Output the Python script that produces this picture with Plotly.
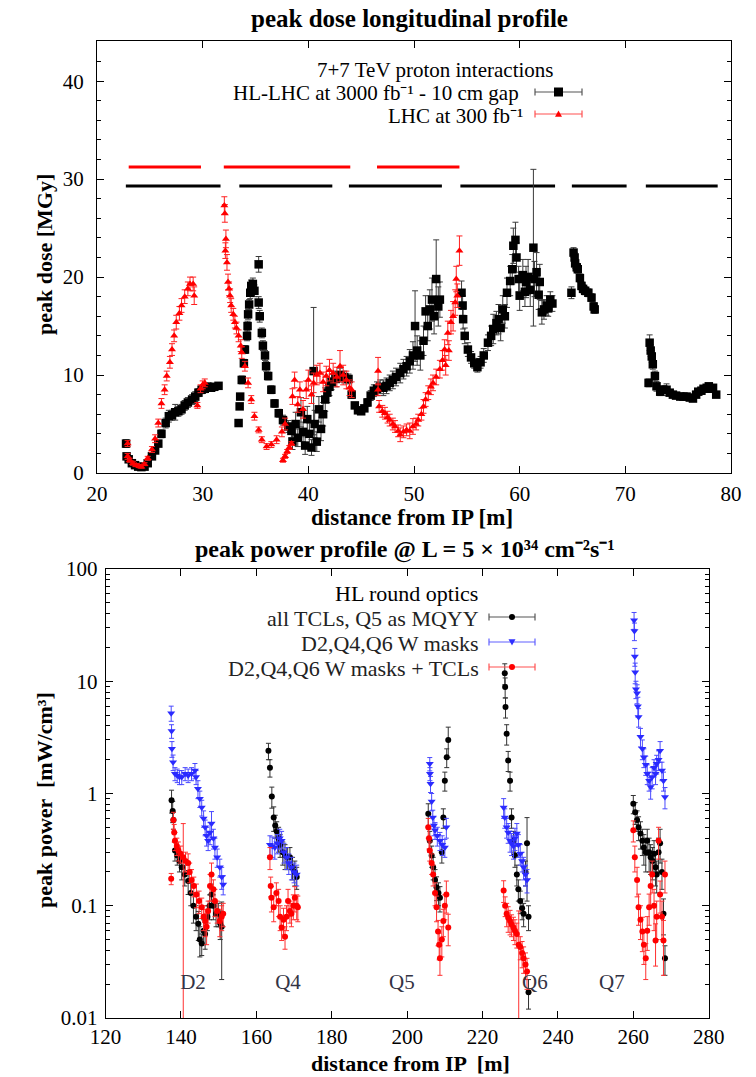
import plotly.graph_objects as go

W, H = 756, 1077

# ---------------- top panel: peak dose (MGy) vs distance (m) ----------------
# (distance, peak dose, error)
HL_POINTS = [
    (22.75, 3.0, 0.4), (22.8, 1.7, 0.3), (23.0, 1.4, 0.2), (23.3, 1.0, 0.2), (23.6, 0.8, 0.2),
    (23.9, 0.65, 0.15), (24.2, 0.6, 0.15), (24.5, 0.65, 0.15), (24.8, 1.0, 0.2), (25.2, 1.7, 0.2),
    (25.5, 2.3, 0.3), (25.8, 3.0, 0.3), (26.1, 4.0, 0.4), (26.5, 5.1, 0.5), (26.8, 5.8, 0.6),
    (27.1, 5.9, 0.5), (27.4, 6.2, 0.8), (27.7, 6.3, 0.5), (28.0, 6.5, 0.5), (28.3, 6.9, 0.5),
    (28.6, 7.2, 0.5), (29.0, 7.5, 0.5), (29.3, 7.8, 0.5), (29.6, 8.2, 0.4), (29.9, 8.5, 0.4),
    (30.2, 8.6, 0.4), (30.5, 8.8, 0.4), (30.8, 8.7, 0.3), (31.1, 8.8, 0.3), (31.5, 8.9, 0.3),
    (33.4, 5.1, 0.3), (33.5, 6.8, 0.3), (33.55, 7.8, 0.3), (33.7, 9.5, 0.4), (33.9, 11.2, 0.4),
    (34.0, 12.6, 0.4), (34.2, 14.0, 0.5), (34.25, 15.0, 0.5), (34.3, 16.2, 0.5), (34.4, 17.2, 0.5),
    (34.5, 18.4, 0.6), (34.6, 19.1, 0.6), (34.75, 19.3, 0.6), (34.9, 18.6, 0.6), (35.3, 21.3, 0.8),
    (35.3, 17.4, 0.6), (35.4, 16.0, 0.6), (35.6, 14.3, 0.5), (35.7, 13.0, 0.5), (35.9, 12.0, 0.5),
    (36.0, 10.9, 0.5), (36.2, 9.9, 0.4), (36.5, 8.5, 0.4), (36.8, 7.1, 0.4), (37.2, 6.1, 0.4),
    (37.6, 5.4, 0.5), (38.1, 4.75, 0.6), (38.4, 4.3, 0.7), (38.5, 3.2, 0.8), (38.8, 5.0, 1.2),
    (39.0, 3.6, 0.9), (39.3, 6.2, 1.5), (39.5, 4.2, 1.0), (39.7, 2.8, 0.9), (39.9, 5.5, 1.3),
    (40.1, 4.0, 1.1), (40.3, 2.6, 0.8), (40.5, 10.4, 6.5), (40.6, 5.0, 1.4), (40.8, 3.2, 1.0),
    (41.0, 6.5, 1.3), (41.2, 4.5, 1.2), (41.4, 6.0, 1.2), (41.6, 7.5, 1.2), (41.8, 8.2, 1.0),
    (42.0, 8.8, 0.9), (42.2, 9.3, 0.8), (42.6, 9.6, 0.8), (43.0, 10.0, 0.7), (43.4, 9.8, 0.6),
    (43.8, 9.6, 0.5), (44.1, 8.0, 0.4), (44.4, 6.9, 0.3), (44.7, 6.4, 0.3), (45.0, 6.3, 0.3),
    (45.3, 6.6, 0.3), (45.6, 7.2, 0.4), (45.9, 7.9, 0.5), (46.2, 8.4, 0.6), (46.5, 8.6, 0.7),
    (46.8, 8.8, 0.7), (47.1, 8.7, 0.8), (47.4, 8.9, 0.8), (47.7, 9.2, 0.8), (48.0, 9.5, 0.9),
    (48.3, 9.8, 0.9), (48.7, 10.2, 1.0), (49.0, 10.6, 1.0), (49.3, 10.9, 1.0), (49.6, 11.4, 1.2),
    (49.9, 12.0, 1.4), (50.1, 15.0, 3.6), (50.3, 12.5, 1.5), (50.6, 12.0, 1.5), (50.9, 13.5, 1.5),
    (51.1, 16.5, 1.6), (51.3, 15.0, 1.5), (51.5, 16.7, 2.0), (51.7, 17.7, 2.2), (51.9, 16.0, 1.8),
    (52.1, 19.8, 4.0), (52.3, 17.0, 2.0), (52.45, 17.7, 1.8),
    (54.5, 18.4, 1.2), (54.6, 17.1, 1.0), (54.65, 15.7, 1.0), (54.8, 14.0, 0.8), (55.1, 12.6, 0.7),
    (55.4, 11.8, 0.6), (55.7, 11.2, 0.5), (56.0, 10.8, 0.5), (56.3, 11.3, 0.6), (56.6, 12.0, 0.7),
    (57.0, 13.3, 0.8), (57.3, 14.0, 1.0), (57.5, 14.7, 1.5), (57.8, 15.3, 1.2), (58.0, 15.7, 1.5),
    (58.2, 14.8, 1.3), (58.4, 16.7, 1.4), (58.6, 16.0, 1.2), (58.8, 18.4, 1.5), (59.1, 19.6, 1.5),
    (59.3, 20.8, 1.5), (59.4, 23.2, 1.8), (59.6, 23.8, 1.8), (59.7, 22.0, 1.5), (59.9, 19.8, 1.3),
    (60.0, 18.1, 1.5), (60.3, 20.2, 1.6), (60.5, 18.5, 1.5), (60.6, 19.5, 1.6), (60.8, 20.0, 1.8),
    (61.0, 18.7, 1.7), (61.3, 23.0, 8.0), (61.4, 19.8, 1.8), (61.6, 20.5, 2.0), (61.8, 18.2, 1.5),
    (61.9, 19.5, 1.8), (62.1, 16.4, 1.2), (62.3, 16.7, 1.0), (62.55, 17.1, 1.0), (62.7, 16.8, 0.8),
    (62.9, 17.7, 0.8), (63.1, 17.3, 0.8),
    (64.9, 18.4, 0.6), (65.1, 22.5, 0.5), (65.2, 22.0, 0.5), (65.25, 21.4, 0.5), (65.4, 21.0, 0.4),
    (65.5, 20.8, 0.4), (65.7, 19.9, 0.4), (65.85, 19.1, 0.4), (66.0, 18.8, 0.4), (66.2, 18.6, 0.4),
    (66.5, 18.4, 0.4), (66.8, 17.9, 0.4), (67.0, 17.0, 0.4), (67.1, 16.7, 0.4),
    (72.2, 9.2, 0.4), (72.3, 13.3, 0.8), (72.4, 12.5, 0.6), (72.5, 11.9, 0.6), (72.6, 11.1, 0.5),
    (72.8, 9.9, 0.5), (72.95, 8.85, 0.5), (73.3, 8.3, 0.4), (73.6, 8.5, 0.4), (73.9, 8.5, 0.6),
    (74.2, 8.2, 0.3), (74.5, 8.0, 0.3), (74.8, 7.9, 0.3), (75.2, 7.8, 0.3), (75.5, 7.8, 0.3),
    (75.8, 7.8, 0.3), (76.1, 7.7, 0.3), (76.4, 7.6, 0.3), (76.7, 8.0, 0.3), (76.9, 8.3, 0.3),
    (77.2, 8.4, 0.3), (77.4, 8.6, 0.3), (77.7, 8.7, 0.3), (77.9, 8.85, 0.3), (78.1, 8.6, 0.3),
    (78.3, 8.7, 0.3), (78.6, 8.0, 0.3),
]

LHC_POINTS = [
    (22.9, 3.0, 0.3), (22.9, 1.7, 0.3), (23.1, 1.3, 0.2), (23.4, 1.0, 0.2), (23.7, 0.8, 0.15),
    (24.0, 0.7, 0.15), (24.2, 0.65, 0.15), (24.5, 0.9, 0.15), (24.8, 1.5, 0.2), (25.2, 2.4, 0.3),
    (25.5, 3.5, 0.4), (25.8, 5.1, 0.4), (26.1, 7.1, 0.5), (26.4, 8.5, 0.5), (26.6, 9.9, 0.5),
    (26.9, 11.3, 0.6), (27.1, 12.6, 0.6), (27.3, 14.0, 0.6), (27.5, 15.4, 0.7), (27.8, 16.3, 0.7),
    (28.0, 17.1, 0.7), (28.3, 18.0, 0.7), (28.6, 18.8, 0.7), (28.8, 19.3, 0.7), (29.1, 19.3, 0.7),
    (29.2, 18.1, 0.9), (29.5, 6.9, 0.3), (29.8, 8.6, 0.4), (30.0, 9.0, 0.4), (30.2, 9.2, 0.4),
    (32.05, 27.3, 0.9), (32.1, 26.5, 0.9), (32.15, 22.7, 0.8), (32.2, 23.9, 0.9), (32.3, 21.5, 0.8),
    (32.4, 19.5, 0.8), (32.5, 18.8, 0.7), (32.6, 18.1, 0.7), (32.7, 17.1, 0.7), (32.9, 16.2, 0.6),
    (33.05, 15.4, 0.6), (33.2, 14.8, 0.6), (33.4, 14.0, 0.6), (33.6, 13.0, 0.6), (33.7, 12.3, 0.6),
    (34.0, 10.9, 0.5), (34.3, 9.2, 0.5), (34.6, 7.5, 0.4), (34.9, 5.8, 0.4), (35.3, 4.4, 0.3),
    (35.6, 3.4, 0.3), (36.05, 2.7, 0.3), (36.5, 2.9, 0.3), (37.0, 3.4, 0.4), (37.5, 4.2, 0.5),
    (37.8, 5.0, 0.6), (37.6, 1.3, 0.2), (37.8, 1.7, 0.2), (38.0, 2.2, 0.2), (38.2, 2.6, 0.2),
    (38.4, 3.0, 0.2), (38.5, 7.8, 0.8), (38.7, 9.5, 0.8), (39.0, 7.0, 0.8), (39.2, 8.5, 0.8),
    (39.5, 6.5, 0.9), (39.8, 8.5, 0.9), (40.0, 9.5, 1.0), (40.3, 8.0, 0.9), (40.5, 9.2, 1.0),
    (40.8, 10.0, 1.0), (41.1, 10.2, 1.0), (41.4, 9.3, 1.0), (41.7, 9.9, 1.0), (42.0, 10.5, 1.1),
    (42.35, 10.2, 1.0), (42.7, 9.8, 1.0), (43.0, 10.9, 1.6), (43.3, 10.0, 1.0), (43.6, 9.5, 0.9),
    (43.9, 8.7, 0.8), (44.1, 8.5, 0.8),
    (46.6, 8.5, 0.6), (46.6, 10.4, 1.4), (46.7, 6.8, 0.6), (47.0, 6.3, 0.6), (47.25, 6.1, 0.6),
    (47.5, 5.7, 0.6), (47.7, 5.4, 0.6), (48.0, 5.0, 0.6), (48.2, 4.75, 0.6), (48.5, 4.3, 0.6),
    (48.7, 3.9, 0.7), (49.0, 4.2, 0.6), (49.3, 4.4, 0.6), (49.6, 4.3, 0.8), (49.9, 4.75, 0.8),
    (50.2, 5.0, 0.6), (50.4, 5.4, 0.6), (50.7, 6.0, 0.6), (50.9, 6.8, 0.7), (51.1, 7.5, 0.7),
    (51.35, 8.2, 0.7), (51.6, 8.8, 0.8), (51.8, 9.2, 0.8), (52.1, 9.8, 0.8), (52.45, 10.6, 0.9),
    (52.7, 11.5, 1.0), (52.9, 12.6, 1.0), (53.0, 11.0, 1.0), (53.2, 14.3, 1.2), (53.3, 12.5, 1.0),
    (53.5, 15.4, 1.2), (53.7, 16.0, 1.5), (53.9, 17.4, 1.3), (54.0, 19.8, 1.3), (54.1, 18.1, 1.2),
    (54.3, 22.7, 1.5),
]

# magnet extents (start, end) drawn as horizontal bars
HL_MAGNETS = [(22.73, 31.69), (33.47, 42.27), (43.84, 52.64), (54.39, 63.35), (64.94, 70.12), (71.94, 78.74)]
HL_MAGNET_LEVEL = 29.3
LHC_MAGNETS = [(23.0, 29.84), (32.0, 43.97), (46.5, 54.3)]
LHC_MAGNET_LEVEL = 31.25

TOP_X_TICKS = [20, 30, 40, 50, 60, 70, 80]
TOP_Y_TICKS = [0, 10, 20, 30, 40]

# ---------------- bottom panel: peak power (mW/cm3) vs distance (m) ----------------
TCL_POINTS = [
    (137.5, 0.87, 0.2), (137.8, 0.7, 0.15), (138.0, 0.58, 0.1), (138.4, 0.31, 0.06), (139.0, 0.28, 0.05),
    (139.6, 0.25, 0.05), (140.2, 0.22, 0.05), (141.0, 0.19, 0.04), (141.9, 0.166, 0.04), (142.6, 0.13, 0.03),
    (143.3, 0.1, 0.03), (144.0, 0.08, 0.02), (144.6, 0.069, 0.02), (145.0, 0.05, 0.015), (145.5, 0.046, 0.01),
    (146.0, 0.06, 0.015), (146.4, 0.056, 0.015), (147.0, 0.08, 0.02), (147.6, 0.1, 0.025), (148.1, 0.126, 0.03),
    (148.6, 0.1, 0.025), (149.3, 0.085, 0.02), (149.9, 0.085, 0.02), (150.4, 0.07, 0.02), (150.8, 0.065, 0.043),
    (163.2, 2.4, 0.4), (163.6, 1.7, 0.3), (164.1, 0.94, 0.2), (164.6, 0.61, 0.15), (165.0, 0.52, 0.12),
    (165.4, 0.46, 0.1), (165.9, 0.4, 0.1), (166.3, 0.35, 0.08), (167.0, 0.3, 0.07), (167.6, 0.28, 0.07),
    (168.3, 0.27, 0.06), (168.9, 0.27, 0.06), (169.6, 0.22, 0.05), (170.2, 0.2, 0.05), (170.7, 0.18, 0.04),
    (205.6, 0.66, 0.15), (206.0, 0.38, 0.08), (206.5, 0.28, 0.06), (206.9, 0.22, 0.05), (207.4, 0.17, 0.04),
    (207.8, 0.146, 0.035), (208.3, 0.13, 0.03), (208.7, 0.118, 0.03), (209.2, 0.3, 0.06), (209.6, 0.61, 0.12),
    (210.0, 1.3, 0.25), (210.5, 2.1, 0.4), (210.9, 3.0, 0.9),
    (225.9, 11.8, 2.5), (226.0, 8.9, 1.8), (226.1, 5.9, 1.2), (226.4, 3.4, 0.7), (226.8, 1.97, 0.4),
    (227.3, 1.3, 0.25), (227.7, 0.61, 0.12), (228.2, 0.38, 0.08), (228.6, 0.28, 0.06), (229.1, 0.19, 0.04),
    (229.5, 0.14, 0.03), (230.0, 0.11, 0.025), (230.5, 0.095, 0.02), (230.9, 0.085, 0.02), (231.4, 0.2, 0.05),
    (231.8, 0.36, 0.25), (232.2, 0.08, 0.02), (232.2, 0.017, 0.005),
    (260.0, 0.81, 0.15), (260.5, 0.68, 0.15), (261.0, 0.58, 0.12), (261.4, 0.5, 0.12), (261.9, 0.44, 0.12),
    (262.4, 0.38, 0.1), (262.8, 0.33, 0.1), (263.3, 0.3, 0.1), (263.7, 0.38, 0.1), (264.2, 0.3, 0.1),
    (264.6, 0.27, 0.08), (265.1, 0.25, 0.08), (265.5, 0.29, 0.09), (265.9, 0.22, 0.07), (266.2, 0.19, 0.06),
    (266.7, 0.3, 0.1), (267.1, 0.36, 0.12), (267.6, 0.2, 0.06), (268.0, 0.085, 0.03), (268.4, 0.034, 0.01),
]

WMASK_POINTS = [
    (137.4, 5.2, 0.8), (137.5, 3.6, 0.5), (137.6, 2.5, 0.4), (137.9, 1.9, 0.3), (138.4, 1.5, 0.2),
    (139.0, 1.45, 0.2), (139.6, 1.4, 0.2), (140.2, 1.4, 0.2), (141.1, 1.5, 0.2), (141.9, 1.45, 0.2),
    (142.8, 1.5, 0.2), (143.7, 1.6, 0.25), (144.0, 1.4, 0.2), (144.5, 1.1, 0.2), (145.0, 0.9, 0.15),
    (145.5, 0.75, 0.12), (146.0, 0.6, 0.1), (146.4, 0.5, 0.08), (146.8, 0.42, 0.08), (147.2, 0.38, 0.07),
    (147.7, 0.45, 0.1), (148.1, 0.54, 0.15), (148.6, 0.4, 0.08), (149.0, 0.33, 0.07), (149.6, 0.27, 0.05),
    (150.3, 0.22, 0.04), (150.8, 0.18, 0.04), (151.2, 0.155, 0.03),
    (163.6, 0.35, 0.07), (164.2, 0.34, 0.07), (164.9, 0.33, 0.07), (165.6, 0.36, 0.07), (166.2, 0.4, 0.08),
    (166.7, 0.38, 0.08), (167.3, 0.3, 0.06), (168.0, 0.27, 0.06), (168.6, 0.24, 0.05), (169.3, 0.22, 0.05),
    (170.0, 0.2, 0.04), (170.7, 0.19, 0.04),
    (206.0, 1.84, 0.25), (206.05, 1.5, 0.2), (206.2, 1.22, 0.2), (206.5, 0.85, 0.15), (206.8, 0.61, 0.1),
    (207.1, 0.52, 0.1), (207.4, 0.47, 0.08), (208.0, 0.42, 0.08), (208.7, 0.38, 0.07), (209.3, 0.35, 0.07),
    (210.0, 0.33, 0.06), (210.4, 0.5, 0.1),
    (225.6, 0.75, 0.15), (225.9, 0.61, 0.12), (226.4, 0.5, 0.1), (226.8, 0.45, 0.09), (227.3, 0.38, 0.08),
    (227.7, 0.36, 0.08), (228.2, 0.34, 0.08), (228.6, 0.4, 0.09), (229.1, 0.44, 0.1), (229.5, 0.35, 0.08),
    (230.0, 0.29, 0.06), (230.5, 0.25, 0.05), (230.9, 0.22, 0.05), (231.4, 0.19, 0.04), (231.8, 0.17, 0.04),
    (260.2, 35.0, 6.0), (260.3, 28.0, 5.0), (260.4, 16.6, 3.0), (260.5, 12.0, 2.5), (260.7, 8.5, 1.5),
    (261.0, 7.8, 1.5), (261.2, 6.0, 1.2), (261.4, 4.8, 0.9), (261.9, 3.2, 0.6), (262.4, 2.5, 0.5),
    (262.8, 2.1, 0.4), (263.3, 1.8, 0.35), (263.7, 1.5, 0.3), (264.2, 1.3, 0.25), (264.6, 1.14, 0.25),
    (265.0, 1.4, 0.3), (265.5, 1.7, 0.3), (265.9, 1.5, 0.3), (266.2, 1.84, 0.35), (266.7, 2.0, 0.4),
    (267.1, 2.4, 0.5), (267.6, 1.6, 0.3), (268.0, 1.3, 0.25), (268.4, 0.93, 0.2),
]

WMASK_TCL_POINTS = [
    (137.4, 0.174, 0.02), (138.0, 0.58, 0.1), (138.2, 0.45, 0.08), (138.4, 0.38, 0.07), (138.9, 0.34, 0.06),
    (139.3, 0.31, 0.06), (139.9, 0.29, 0.05), (140.6, 0.27, 0.2695), (141.2, 0.25, 0.05), (141.9, 0.24, 0.05),
    (142.3, 0.2, 0.04), (142.8, 0.17, 0.04), (143.4, 0.15, 0.03), (144.1, 0.126, 0.03), (144.8, 0.11, 0.025),
    (145.5, 0.097, 0.02), (146.0, 0.08, 0.02), (146.4, 0.073, 0.02), (146.8, 0.065, 0.02), (147.2, 0.09, 0.02),
    (147.7, 0.15, 0.04), (148.1, 0.19, 0.05), (148.6, 0.14, 0.03), (149.0, 0.11, 0.03), (149.6, 0.09, 0.02),
    (150.3, 0.073, 0.02), (150.8, 0.08, 0.02), (151.2, 0.085, 0.02),
    (163.6, 0.27, 0.06), (163.8, 0.15, 0.03), (164.0, 0.118, 0.03), (164.6, 0.097, 0.025), (165.3, 0.13, 0.03),
    (165.9, 0.11, 0.03), (166.3, 0.08, 0.02), (166.7, 0.064, 0.015), (167.2, 0.075, 0.02), (167.6, 0.053, 0.012),
    (168.0, 0.08, 0.02), (168.4, 0.11, 0.03), (168.9, 0.09, 0.02), (169.3, 0.085, 0.02), (169.8, 0.1, 0.025),
    (170.2, 0.118, 0.03), (170.7, 0.1, 0.025), (171.0, 0.097, 0.025),
    (205.6, 0.5, 0.1), (205.8, 0.4, 0.08), (206.0, 0.31, 0.06), (206.5, 0.24, 0.05), (206.9, 0.19, 0.04),
    (207.4, 0.13, 0.03), (207.8, 0.097, 0.025), (208.2, 0.059, 0.015), (208.5, 0.045, 0.012), (208.7, 0.034, 0.01),
    (209.2, 0.05, 0.015), (209.6, 0.073, 0.02), (210.0, 0.1, 0.025), (210.4, 0.126, 0.04), (210.9, 0.064, 0.02),
    (225.6, 0.137, 0.03), (226.0, 0.1, 0.02), (226.4, 0.085, 0.02), (226.8, 0.078, 0.02), (227.3, 0.073, 0.018),
    (227.7, 0.068, 0.015), (228.2, 0.064, 0.015), (228.6, 0.06, 0.015), (229.1, 0.056, 0.014), (229.6, 0.045, 0.0449),
    (230.0, 0.043, 0.01), (230.5, 0.038, 0.01), (230.9, 0.034, 0.009), (231.4, 0.03, 0.008), (231.8, 0.026, 0.008),
    (260.0, 0.47, 0.1), (260.4, 0.27, 0.07), (261.0, 0.17, 0.05), (261.4, 0.097, 0.03), (261.9, 0.075, 0.025),
    (262.4, 0.059, 0.02), (262.8, 0.045, 0.015), (263.3, 0.034, 0.012), (263.7, 0.06, 0.02), (264.2, 0.097, 0.03),
    (264.6, 0.15, 0.05), (265.0, 0.19, 0.06), (265.5, 0.1, 0.04), (265.9, 0.049, 0.02), (266.2, 0.08, 0.03),
    (266.7, 0.38, 0.12), (267.1, 0.126, 0.04), (267.6, 0.08, 0.03), (268.0, 0.049, 0.025), (268.4, 0.19, 0.06),
]

ELEMENT_LABELS = ["D2", "Q4", "Q5", "Q6", "Q7"]
ELEMENT_LABEL_X = [143.2, 168.4, 198.6, 233.9, 254.3]
ELEMENT_LABEL_Y = 0.02

BOT_X_TICKS = [120, 140, 160, 180, 200, 220, 240, 260, 280]
BOT_Y_TICKS = [0.01, 0.1, 1, 10, 100]
BOT_Y_TICKTEXT = ["0.01", "0.1", "1", "10", "100"]

# ---------------- helpers ----------------
SERIF = "Liberation Serif, Times New Roman, serif"


def px(x):
    return x / W


def py(y):
    return 1 - y / H


def cols(points):
    return [p[0] for p in points], [p[1] for p in points], [p[2] for p in points]


def bars(segments, level):
    xs, ys = [], []
    for a, b in segments:
        xs += [a, b, None]
        ys += [level, level, None]
    return xs, ys


fig = go.Figure()

# top panel
bx, by = bars(HL_MAGNETS, HL_MAGNET_LEVEL)
fig.add_trace(go.Scatter(x=bx, y=by, mode="lines", line=dict(color="black", width=3),
                         xaxis="x", yaxis="y", showlegend=False, hoverinfo="skip"))
rx, ry = bars(LHC_MAGNETS, LHC_MAGNET_LEVEL)
fig.add_trace(go.Scatter(x=rx, y=ry, mode="lines", line=dict(color="#ff0000", width=3),
                         xaxis="x", yaxis="y", showlegend=False, hoverinfo="skip"))

x, y, e = cols(HL_POINTS)
fig.add_trace(go.Scatter(x=x, y=y, mode="markers", xaxis="x", yaxis="y", showlegend=False,
                         marker=dict(symbol="square", size=8.5, color="black"),
                         error_y=dict(type="data", array=e, visible=True, color="#3a3a3a",
                                      thickness=1, width=3)))
x, y, e = cols(LHC_POINTS)
fig.add_trace(go.Scatter(x=x, y=y, mode="markers", xaxis="x", yaxis="y", showlegend=False,
                         marker=dict(symbol="triangle-up", size=7, color="#ff0000"),
                         error_y=dict(type="data", array=e, visible=True, color="#ff2020",
                                      thickness=1, width=3)))

# bottom panel
x, y, e = cols(TCL_POINTS)
fig.add_trace(go.Scatter(x=x, y=y, mode="markers", xaxis="x2", yaxis="y2", showlegend=False,
                         marker=dict(symbol="circle", size=6, color="black"),
                         error_y=dict(type="data", array=e, visible=True, color="#333333",
                                      thickness=1, width=2.5)))
x, y, e = cols(WMASK_POINTS)
fig.add_trace(go.Scatter(x=x, y=y, mode="markers", xaxis="x2", yaxis="y2", showlegend=False,
                         marker=dict(symbol="triangle-down", size=7, color="#2a2aff"),
                         error_y=dict(type="data", array=e, visible=True, color="#4a4aff",
                                      thickness=1, width=2.5)))
x, y, e = cols(WMASK_TCL_POINTS)
fig.add_trace(go.Scatter(x=x, y=y, mode="markers", xaxis="x2", yaxis="y2", showlegend=False,
                         marker=dict(symbol="circle", size=6, color="#ff0000"),
                         error_y=dict(type="data", array=e, visible=True, color="#ff3030",
                                      thickness=1, width=2.5)))
fig.add_trace(go.Scatter(x=ELEMENT_LABEL_X, y=[ELEMENT_LABEL_Y] * len(ELEMENT_LABELS),
                         text=ELEMENT_LABELS, mode="text", xaxis="x2", yaxis="y2",
                         showlegend=False, hoverinfo="skip",
                         textfont=dict(family=SERIF, size=21, color="#333344")))

axis_common = dict(showline=True, linecolor="black", linewidth=1, mirror="allticks",
                   ticks="inside", ticklen=7, tickcolor="black", showgrid=False, zeroline=False,
                   automargin=False, tickfont=dict(family=SERIF, size=21, color="black"))

minor_log = [k * 10 ** p for p in (-2, -1, 0, 1) for k in range(2, 10)]

fig.update_layout(
    width=W, height=H, paper_bgcolor="white", plot_bgcolor="white",
    margin=dict(l=0, r=0, t=0, b=0), showlegend=False,
    xaxis=dict(domain=[px(97), px(731)], anchor="y", range=[20, 80], tickvals=TOP_X_TICKS,
               ticklabelstandoff=2, **axis_common),
    yaxis=dict(domain=[py(473), py(41)], anchor="x", range=[0, 44.1], tickvals=TOP_Y_TICKS,
               ticklabelstandoff=8,
               minor=dict(dtick=2, ticks="inside", ticklen=4, tickcolor="black"), **axis_common),
    xaxis2=dict(domain=[px(105.6), px(708.7)], anchor="y2", range=[120, 280], tickvals=BOT_X_TICKS,
                **axis_common),
    yaxis2=dict(domain=[py(1018), py(569)], anchor="x2", type="log", range=[-2, 2],
                tickvals=BOT_Y_TICKS, ticktext=BOT_Y_TICKTEXT, ticklabelstandoff=3,
                minor=dict(tickvals=minor_log, ticks="inside", ticklen=4, tickcolor="black"),
                **axis_common),
)

annotations = []


def text(xp, yp, s, size=20, bold=False, anchor="center", angle=0, color="black"):
    annotations.append(dict(x=px(xp), y=py(yp), xref="paper", yref="paper", text=(f"<b>{s}</b>" if bold else s),
                            showarrow=False, xanchor=anchor, yanchor="middle", textangle=angle,
                            font=dict(family=SERIF, size=size, color=color)))


# titles and axis titles
text(409, 19, "peak dose longitudinal profile", size=25, bold=True)
text(45, 255, "peak dose [MGy]", size=22, bold=True, angle=-90)
text(412, 517, "distance from IP [m]", size=23, bold=True)
text(405, 549, "peak power profile @ L = 5 × 10³⁴ cm⁻²s⁻¹", size=24, bold=True)
text(44, 800, "peak power  [mW/cm³]", size=22, bold=True, angle=-90)
text(411, 1063, "distance from IP  [m]", size=22, bold=True)

# top legend
text(555, 70, "7+7 TeV proton interactions", size=21, anchor="right")
text(521, 93, "HL-LHC at 3000 fb⁻¹ - 10 cm gap", size=21, anchor="right")
text(525, 116, "LHC at 300 fb⁻¹", size=21, anchor="right")
# bottom legend
text(406, 593, "HL round optics", size=22)
text(481, 618, "all TCLs, Q5 as MQYY", size=22, anchor="right", color="#222222")
text(481, 643, "D2,Q4,Q6 W masks", size=22, anchor="right", color="#222222")
text(481, 668, "D2,Q4,Q6 W masks + TCLs", size=22, anchor="right", color="#222222")

shapes = []


def sample(xc, yc, color, marker, mcolor, half=23, ms=4):
    shapes.append(dict(type="line", xref="paper", yref="paper", x0=px(xc - half), x1=px(xc + half),
                       y0=py(yc), y1=py(yc), line=dict(color=color, width=1.2)))
    for xe in (xc - half, xc + half):
        shapes.append(dict(type="line", xref="paper", yref="paper", x0=px(xe), x1=px(xe),
                           y0=py(yc - 3.5), y1=py(yc + 3.5), line=dict(color=color, width=1.2)))
    if marker == "square":
        shapes.append(dict(type="rect", xref="paper", yref="paper", x0=px(xc - ms), x1=px(xc + ms),
                           y0=py(yc + ms), y1=py(yc - ms), fillcolor=mcolor, line=dict(width=0)))
    elif marker == "circle":
        shapes.append(dict(type="circle", xref="paper", yref="paper", x0=px(xc - ms), x1=px(xc + ms),
                           y0=py(yc + ms), y1=py(yc - ms), fillcolor=mcolor, line=dict(width=0)))
    else:
        s = 1 if marker == "up" else -1
        pth = (f"M {px(xc - ms)} {py(yc + s * ms * 0.8)} L {px(xc + ms)} {py(yc + s * ms * 0.8)} "
               f"L {px(xc)} {py(yc - s * ms)} Z")
        shapes.append(dict(type="path", xref="paper", yref="paper", path=pth, fillcolor=mcolor,
                           line=dict(width=0)))


sample(558.5, 92, "#555555", "square", "black", half=23.5, ms=4.5)
sample(558.5, 114, "#ff5050", "up", "#ff0000", half=23.5, ms=3.5)
sample(512, 617, "#555555", "circle", "black", ms=3)
sample(512, 642, "#6060ff", "down", "#3030ff", ms=3.5)
sample(512, 667, "#ff5050", "circle", "#ff0000", ms=3)

fig.update_layout(annotations=annotations, shapes=shapes)

fig.write_html("out.html", config={"displayModeBar": False},
               post_script="document.body.style.margin='0';")
